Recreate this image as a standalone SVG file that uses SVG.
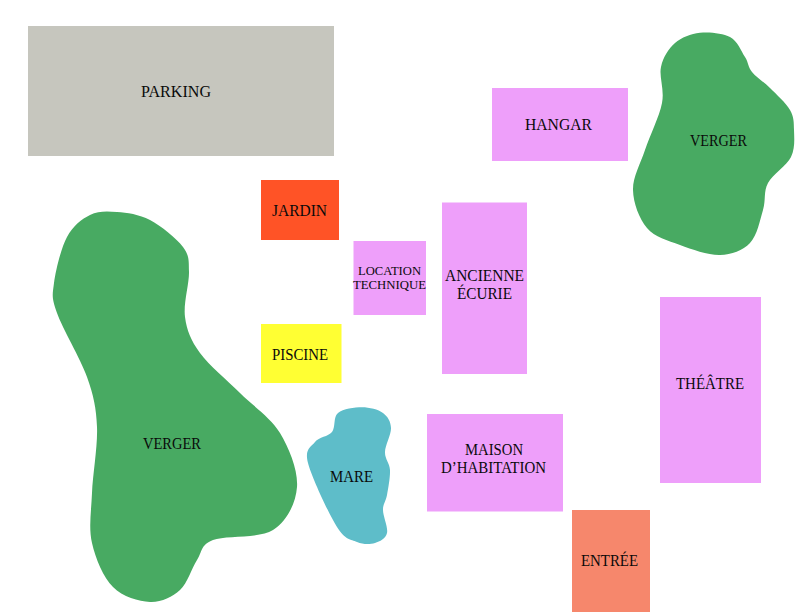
<svg xmlns="http://www.w3.org/2000/svg" width="800" height="612" viewBox="0 0 800 612">
<style>
.pink{fill:#ee9ffa}
.green{fill:#48aa62}
text{font-family:"Liberation Serif","Times New Roman",serif;font-size:16px;fill:#0a0a0a}
.small{font-size:13.5px}
</style>
<rect width="800" height="612" fill="#fff"/>
<g id="parking"><rect x="28" y="26" width="306" height="130" fill="#c6c6be"/><text x="141" y="97" textLength="70" lengthAdjust="spacingAndGlyphs">PARKING</text></g>
<g id="hangar"><rect class="pink" x="492" y="88" width="136" height="73"/><text x="525" y="130" textLength="67" lengthAdjust="spacingAndGlyphs">HANGAR</text></g>
<g id="verger-est"><path class="green" d="M700 32.7C709.2 31.7 722.5 33 730 37C737.5 41 741.3 51.2 745 57C748.7 62.8 747.8 66.8 752 72C756.2 77.2 763.7 81.7 770 88C776.3 94.3 786 103 790 110C794 117 793.8 122.2 794 130C794.2 137.8 795.3 148.2 791 157C786.7 165.8 772.7 174.2 768 183C763.3 191.8 766 200 763 210C760 220 757.2 235.5 750 243C742.8 250.5 731.7 254.7 720 255C708.3 255.3 692.2 249.5 680 245C667.8 240.5 654.8 237.2 647 228C639.2 218.8 633.3 203 633 190C632.7 177 640.2 164.5 645 150C649.8 135.5 659.3 116.8 662 103C664.7 89.2 658.8 77 661 67C663.2 57 668.5 48.7 675 43C681.5 37.3 690.8 33.7 700 32.7Z"/><text x="690" y="146" textLength="57" lengthAdjust="spacingAndGlyphs">VERGER</text></g>
<g id="jardin"><rect x="261" y="180" width="78" height="60" fill="#ff5326"/><text x="272" y="216" textLength="55" lengthAdjust="spacingAndGlyphs">JARDIN</text></g>
<g id="location-technique"><rect class="pink" x="353.500" y="241" width="72.500" height="74"/><text class="small" x="358" y="275" textLength="63" lengthAdjust="spacingAndGlyphs">LOCATION</text><text class="small" x="353" y="289" textLength="73" lengthAdjust="spacingAndGlyphs">TECHNIQUE</text></g>
<g id="ancienne-ecurie"><rect class="pink" x="442" y="202.500" width="85" height="171.500"/><text x="445" y="281" textLength="79" lengthAdjust="spacingAndGlyphs">ANCIENNE</text><text x="457" y="299" textLength="55" lengthAdjust="spacingAndGlyphs">ÉCURIE</text></g>
<g id="theatre"><rect class="pink" x="660" y="297" width="101" height="186"/><text x="676" y="389" textLength="68" lengthAdjust="spacingAndGlyphs">THÉÂTRE</text></g>
<g id="piscine"><rect x="261" y="324" width="80.500" height="59" fill="#ffff33"/><text x="272" y="360" textLength="56" lengthAdjust="spacingAndGlyphs">PISCINE</text></g>
<g id="verger-ouest"><path class="green" d="M117 212C127 212.8 139 214.2 150 220C161 225.8 176.500 238.300 183 247C189.500 255.700 188.700 260.300 189 272C189.300 283.700 183.200 303.500 185 317C186.800 330.500 190.800 340.300 200 353C209.200 365.700 226.700 379.700 240 393C253.300 406.300 270.500 417.300 280 433C289.500 448.700 298.200 470.800 297 487C295.800 503.200 287 521.200 273 530C259 538.800 225.700 535 213 540C200.300 545 202.500 551.700 197 560C191.500 568.300 187.800 583 180 590C172.200 597 161.200 602.500 150 602C138.800 601.500 122.700 596.800 113 587C103.300 577.200 95.500 558.700 92 543C88.500 527.300 91.200 512.300 92 493C92.800 473.700 97.800 446.300 97 427C96.200 407.700 93.700 396 87 377C80.300 358 62.500 328.700 57 313C51.500 297.300 52.300 295.700 54 283C55.700 270.300 61 248.300 67 237C73 225.700 81.700 219.200 90 215C98.300 210.800 107 211.200 117 212Z"/><text x="143" y="449" textLength="58" lengthAdjust="spacingAndGlyphs">VERGER</text></g>
<g id="mare"><path d="M362 407.300C369.500 407.300 378.200 409.500 383 413C387.800 416.500 390.700 421.500 391 428C391.300 434.500 385.200 445 385 452C384.800 459 389.700 462.800 390 470C390.300 477.200 388.200 488.300 387 495C385.800 501.700 383 503.700 383 510C383 516.300 388.300 527.500 387 533C385.700 538.500 380 541.500 375 543C370 544.500 363.300 544.700 357 542C350.700 539.300 345.200 540.200 337 527C328.800 513.800 311.700 477.200 308 463C304.300 448.800 311 447.200 315 442C319 436.800 328.200 436.800 332 432C335.800 427.200 333 417.100 338 413C343 408.900 354.500 407.300 362 407.300Z" fill="#5ebdc9"/><text x="330" y="482" textLength="43" lengthAdjust="spacingAndGlyphs">MARE</text></g>
<g id="maison"><rect class="pink" x="427" y="414" width="136" height="97.500"/><text x="465" y="455" textLength="58" lengthAdjust="spacingAndGlyphs">MAISON</text><text x="441" y="473" textLength="105" lengthAdjust="spacingAndGlyphs">D’HABITATION</text></g>
<g id="entree"><rect x="572" y="510" width="78" height="102" fill="#f6876c"/><text x="581" y="566" textLength="57" lengthAdjust="spacingAndGlyphs">ENTRÉE</text></g>
</svg>
